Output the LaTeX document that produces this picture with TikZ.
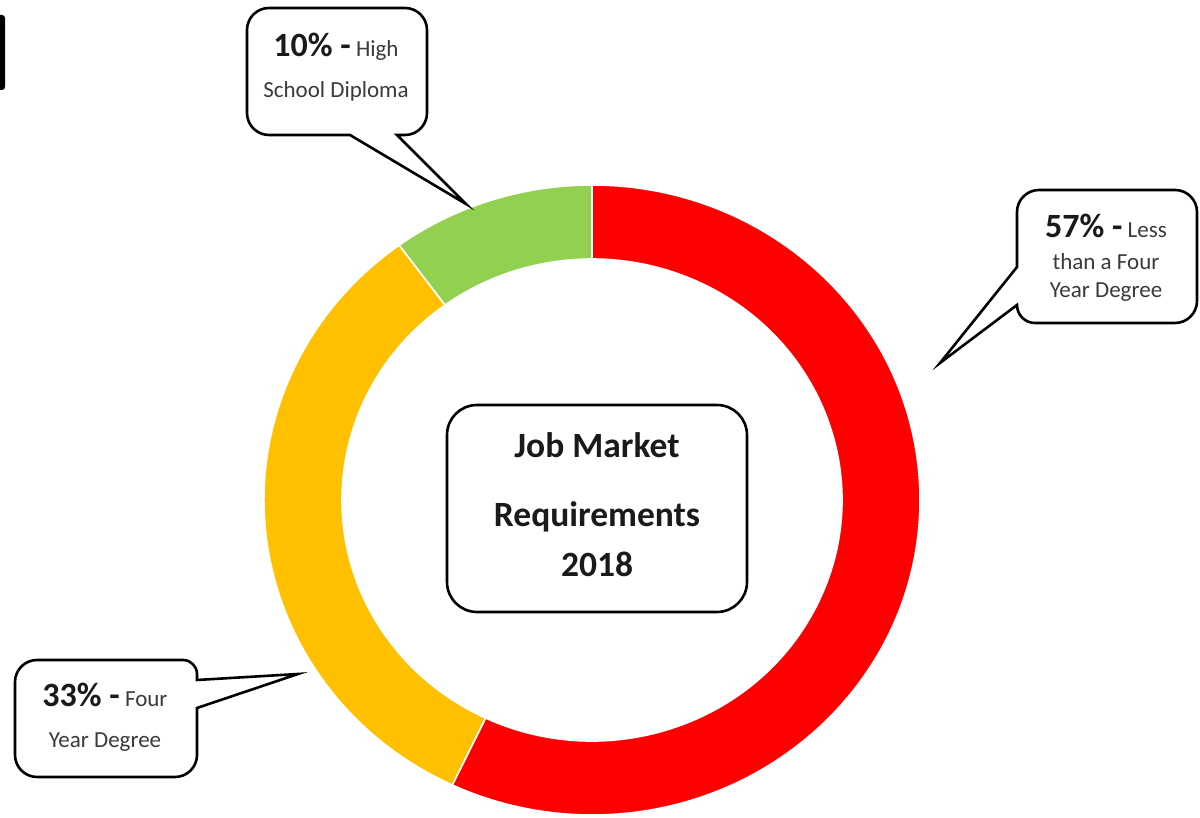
\documentclass[tikz,border=0pt]{standalone}
\usepackage{fontspec}
\setmainfont{Carlito}
\definecolor{segred}{HTML}{FF0000}
\definecolor{segyellow}{HTML}{FFC000}
\definecolor{seggreen}{HTML}{92D050}
\definecolor{inkdark}{HTML}{1A1A1A}
\definecolor{inkgray}{HTML}{3A3A3A}
\newcommand\pctfont{\bfseries\fontsize{34}{34}\selectfont}
\newcommand\lblfont{\fontsize{23}{23}\selectfont}
\newcommand\ttlfont{\bfseries\fontsize{35.5}{36}\selectfont}
\begin{document}
\begin{tikzpicture}[x=1pt,y=1pt,
  callout/.style={draw=black, line width=2.6pt, fill=white, line join=miter, miter limit=20},
  ringseg/.style={draw=white, line width=1.6pt},
  lbl/.style={anchor=base, inner sep=0pt, font=\lblfont, text=inkgray},
  ttl/.style={anchor=base, inner sep=0pt, font=\ttlfont, text=inkdark},
  titlebox/.style={draw=black, line width=2.6pt, fill=white, rounded corners=30pt,
    minimum width=300pt, minimum height=207pt, inner sep=0pt}]
\useasboundingbox (0,0) rectangle (1200,818);
% mark at the top-left edge
\fill[black, rounded corners=3pt] (-10,728) rectangle (5,803);
% ring
\begin{scope}[shift={(592,318)}]
\path[fill=segred, ringseg] (90:328pt and 315pt)
  arc[start angle=90, end angle=-115.2, x radius=328pt, y radius=315pt]
  -- (-115.2:250pt and 241pt)
  arc[start angle=-115.2, end angle=90, x radius=250pt, y radius=241pt] -- cycle;
\path[fill=segyellow, ringseg] (-115.2:328pt and 315pt)
  arc[start angle=-115.2, end angle=-234, x radius=328pt, y radius=315pt]
  -- (-234:250pt and 241pt)
  arc[start angle=-234, end angle=-115.2, x radius=250pt, y radius=241pt] -- cycle;
\path[fill=seggreen, ringseg] (126:328pt and 315pt)
  arc[start angle=126, end angle=90, x radius=328pt, y radius=315pt]
  -- (90:250pt and 241pt)
  arc[start angle=90, end angle=126, x radius=250pt, y radius=241pt] -- cycle;
\end{scope}
% centre box
\node[titlebox] (title) at (597,309.5) {};
\node[ttl] (t1) at (597,360) {Job Market};
\node[ttl] (t2) at (597,291) {Requirements};
\node[ttl] (t3) at (597,241) {2018};
% callout 10%
\draw[callout] (337,810) -- (405,810) arc[start angle=90, end angle=0, radius=22pt]
  -- (427,705) arc[start angle=0, end angle=-90, radius=22pt]
  -- (397,683) -- (466,614) -- (350,683)
  -- (269,683) arc[start angle=270, end angle=180, radius=22pt]
  -- (247,788) arc[start angle=180, end angle=90, radius=22pt] -- cycle;
\node[lbl] (c10a) at (336,761) {\textcolor{inkdark}{\pctfont 10\% -} High};
\node[lbl] (c10b) at (336,720) {School Diploma};
% callout 57%
\draw[callout] (1107,628) -- (1175,628) arc[start angle=90, end angle=0, radius=22pt]
  -- (1197,517) arc[start angle=0, end angle=-90, radius=22pt]
  -- (1035,495) arc[start angle=270, end angle=180, radius=18pt]
  -- (940,455) -- (1017,551)
  -- (1017,606) arc[start angle=180, end angle=90, radius=22pt] -- cycle;
\node[lbl] (c57a) at (1106,580) {\textcolor{inkdark}{\pctfont 57\% -} Less};
\node[lbl] (c57b) at (1106,548) {than a Four};
\node[lbl] (c57c) at (1106,520) {Year Degree};
% callout 33%
\draw[callout] (106,158) -- (37,158) arc[start angle=90, end angle=180, radius=22pt]
  -- (15,63) arc[start angle=180, end angle=270, radius=22pt]
  -- (175,41) arc[start angle=270, end angle=360, radius=22pt]
  -- (197,110) -- (298,144) -- (197,138)
  -- (197,144) arc[start angle=0, end angle=90, radius=14pt] -- cycle;
\node[lbl] (c33a) at (105,111) {\textcolor{inkdark}{\pctfont 33\% -} Four};
\node[lbl] (c33b) at (105,70) {Year Degree};
\end{tikzpicture}
\end{document}
